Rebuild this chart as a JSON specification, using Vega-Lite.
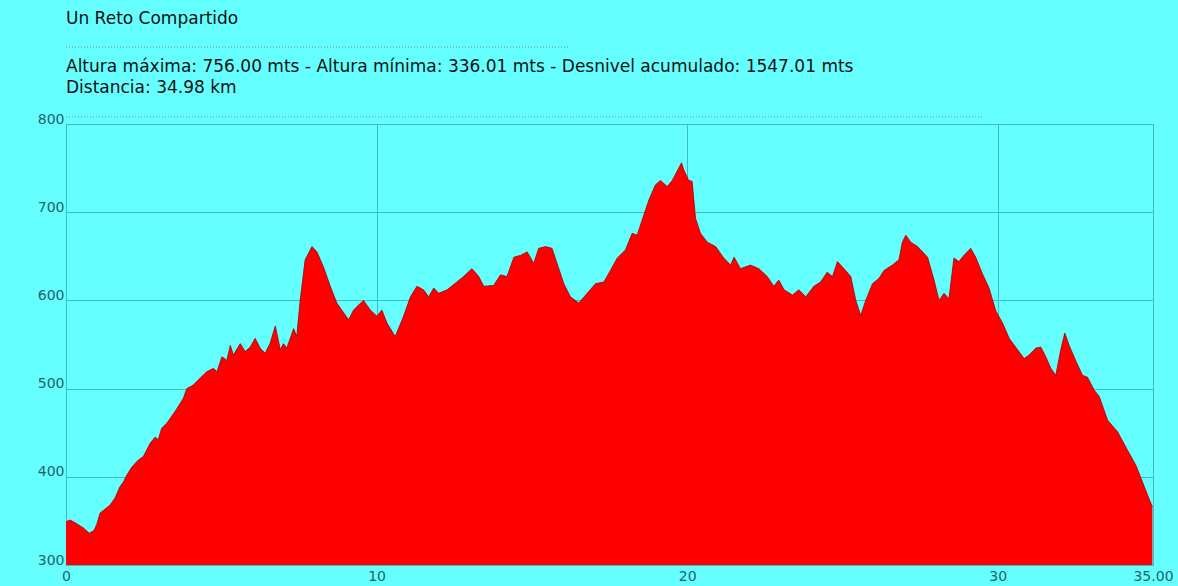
{
  "$schema": "https://vega.github.io/schema/vega-lite/v6.json",
  "width": 1087,
  "height": 441,
  "autosize": "none",
  "padding": {"left": 66, "top": 124, "right": 25, "bottom": 21},
  "background": "#66ffff",
  "title": {
    "text": "Un Reto Compartido",
    "subtitle": ["Altura máxima: 756.00 mts - Altura mínima: 336.01 mts - Desnivel acumulado: 1547.01 mts", "Distancia: 34.98 km"],
    "anchor": "start",
    "frame": "group",
    "font": "DejaVu Sans",
    "fontSize": 17,
    "fontWeight": "normal",
    "color": "#111111",
    "subtitleFont": "DejaVu Sans",
    "subtitleFontSize": 17,
    "subtitleColor": "#111111",
    "subtitleLineHeight": 21,
    "subtitlePadding": 31,
    "offset": -50
  },
  "config": {
    "view": {"stroke": "#3a9ea4", "strokeWidth": 1},
    "axis": {
      "gridColor": "#3fbcc3",
      "gridWidth": 1,
      "gridOpacity": 1,
      "domain": false,
      "ticks": false,
      "labelFont": "DejaVu Sans",
      "labelFontSize": 14,
      "labelColor": "#1e6469",
      "title": null
    }
  },
  "layer": [
    {
      "data": {"name": "perfil", "values": [
        {"km": 0.00, "alt": 349}, {"km": 0.13, "alt": 351}, {"km": 0.29, "alt": 348}, {"km": 0.56, "alt": 342},
        {"km": 0.75, "alt": 336}, {"km": 0.90, "alt": 339}, {"km": 0.99, "alt": 346}, {"km": 1.10, "alt": 359},
        {"km": 1.42, "alt": 368}, {"km": 1.58, "alt": 376}, {"km": 1.74, "alt": 389}, {"km": 1.85, "alt": 394},
        {"km": 1.96, "alt": 402}, {"km": 2.12, "alt": 411}, {"km": 2.33, "alt": 419}, {"km": 2.49, "alt": 423},
        {"km": 2.71, "alt": 438}, {"km": 2.87, "alt": 445}, {"km": 2.97, "alt": 442}, {"km": 3.08, "alt": 455},
        {"km": 3.25, "alt": 461}, {"km": 3.51, "alt": 474}, {"km": 3.78, "alt": 489}, {"km": 3.89, "alt": 500},
        {"km": 4.10, "alt": 504}, {"km": 4.32, "alt": 512}, {"km": 4.53, "alt": 519}, {"km": 4.75, "alt": 523},
        {"km": 4.86, "alt": 519}, {"km": 5.02, "alt": 536}, {"km": 5.18, "alt": 532}, {"km": 5.29, "alt": 549},
        {"km": 5.39, "alt": 538}, {"km": 5.61, "alt": 551}, {"km": 5.77, "alt": 542}, {"km": 5.93, "alt": 547},
        {"km": 6.09, "alt": 557}, {"km": 6.25, "alt": 546}, {"km": 6.41, "alt": 540}, {"km": 6.57, "alt": 551},
        {"km": 6.74, "alt": 571}, {"km": 6.90, "alt": 544}, {"km": 7.00, "alt": 551}, {"km": 7.11, "alt": 546},
        {"km": 7.33, "alt": 568}, {"km": 7.43, "alt": 559}, {"km": 7.54, "alt": 600}, {"km": 7.70, "alt": 646},
        {"km": 7.92, "alt": 661}, {"km": 8.08, "alt": 655}, {"km": 8.29, "alt": 638}, {"km": 8.51, "alt": 616},
        {"km": 8.72, "alt": 597}, {"km": 8.88, "alt": 589}, {"km": 9.10, "alt": 578}, {"km": 9.26, "alt": 589},
        {"km": 9.37, "alt": 593}, {"km": 9.58, "alt": 600}, {"km": 9.80, "alt": 589}, {"km": 10.01, "alt": 582},
        {"km": 10.17, "alt": 589}, {"km": 10.34, "alt": 574}, {"km": 10.60, "alt": 559}, {"km": 10.87, "alt": 582},
        {"km": 11.09, "alt": 604}, {"km": 11.30, "alt": 616}, {"km": 11.51, "alt": 612}, {"km": 11.68, "alt": 604},
        {"km": 11.84, "alt": 614}, {"km": 12.00, "alt": 608}, {"km": 12.27, "alt": 612}, {"km": 12.59, "alt": 621},
        {"km": 12.80, "alt": 627}, {"km": 13.07, "alt": 636}, {"km": 13.29, "alt": 627}, {"km": 13.45, "alt": 616},
        {"km": 13.77, "alt": 617}, {"km": 13.99, "alt": 629}, {"km": 14.20, "alt": 627}, {"km": 14.42, "alt": 649},
        {"km": 14.63, "alt": 651}, {"km": 14.85, "alt": 655}, {"km": 15.06, "alt": 642}, {"km": 15.22, "alt": 659},
        {"km": 15.44, "alt": 661}, {"km": 15.65, "alt": 659}, {"km": 15.81, "alt": 642}, {"km": 16.03, "alt": 619},
        {"km": 16.24, "alt": 604}, {"km": 16.51, "alt": 597}, {"km": 16.78, "alt": 608}, {"km": 17.05, "alt": 619},
        {"km": 17.32, "alt": 621}, {"km": 17.53, "alt": 634}, {"km": 17.75, "alt": 648}, {"km": 18.01, "alt": 657},
        {"km": 18.23, "alt": 676}, {"km": 18.39, "alt": 674}, {"km": 18.55, "alt": 691}, {"km": 18.77, "alt": 714},
        {"km": 18.98, "alt": 731}, {"km": 19.14, "alt": 736}, {"km": 19.36, "alt": 729}, {"km": 19.52, "alt": 736},
        {"km": 19.73, "alt": 750}, {"km": 19.82, "alt": 756}, {"km": 19.89, "alt": 748}, {"km": 20.05, "alt": 736},
        {"km": 20.16, "alt": 735}, {"km": 20.27, "alt": 693}, {"km": 20.43, "alt": 676}, {"km": 20.65, "alt": 666},
        {"km": 20.92, "alt": 661}, {"km": 21.18, "alt": 648}, {"km": 21.40, "alt": 640}, {"km": 21.51, "alt": 649},
        {"km": 21.72, "alt": 636}, {"km": 22.04, "alt": 640}, {"km": 22.31, "alt": 636}, {"km": 22.58, "alt": 627},
        {"km": 22.79, "alt": 616}, {"km": 22.95, "alt": 623}, {"km": 23.12, "alt": 612}, {"km": 23.39, "alt": 606},
        {"km": 23.60, "alt": 612}, {"km": 23.82, "alt": 604}, {"km": 24.08, "alt": 616}, {"km": 24.30, "alt": 621},
        {"km": 24.51, "alt": 632}, {"km": 24.68, "alt": 627}, {"km": 24.84, "alt": 644}, {"km": 25.05, "alt": 636},
        {"km": 25.27, "alt": 627}, {"km": 25.43, "alt": 600}, {"km": 25.59, "alt": 583}, {"km": 25.75, "alt": 600},
        {"km": 25.97, "alt": 619}, {"km": 26.18, "alt": 625}, {"km": 26.34, "alt": 634}, {"km": 26.61, "alt": 640},
        {"km": 26.82, "alt": 646}, {"km": 26.93, "alt": 666}, {"km": 27.04, "alt": 674}, {"km": 27.20, "alt": 666},
        {"km": 27.42, "alt": 661}, {"km": 27.74, "alt": 649}, {"km": 27.95, "alt": 623}, {"km": 28.11, "alt": 600},
        {"km": 28.27, "alt": 608}, {"km": 28.43, "alt": 602}, {"km": 28.59, "alt": 648}, {"km": 28.75, "alt": 644},
        {"km": 28.91, "alt": 651}, {"km": 29.13, "alt": 659}, {"km": 29.29, "alt": 649}, {"km": 29.51, "alt": 630},
        {"km": 29.72, "alt": 614}, {"km": 29.94, "alt": 588}, {"km": 30.16, "alt": 574}, {"km": 30.37, "alt": 557},
        {"km": 30.64, "alt": 544}, {"km": 30.85, "alt": 534}, {"km": 31.01, "alt": 538}, {"km": 31.23, "alt": 546},
        {"km": 31.39, "alt": 547}, {"km": 31.55, "alt": 536}, {"km": 31.71, "alt": 523}, {"km": 31.87, "alt": 515},
        {"km": 32.03, "alt": 544}, {"km": 32.16, "alt": 563}, {"km": 32.30, "alt": 549}, {"km": 32.52, "alt": 531},
        {"km": 32.73, "alt": 515}, {"km": 32.89, "alt": 513}, {"km": 33.11, "alt": 498}, {"km": 33.27, "alt": 491},
        {"km": 33.54, "alt": 464}, {"km": 33.86, "alt": 451}, {"km": 34.18, "alt": 430}, {"km": 34.45, "alt": 413},
        {"km": 34.64, "alt": 396}, {"km": 34.85, "alt": 377}, {"km": 34.98, "alt": 366}
      ]},
      "mark": {"type": "area", "color": "#ff0000", "clip": true, "interpolate": "linear"},
      "encoding": {
        "x": {
          "field": "km", "type": "quantitative",
          "scale": {"domain": [0, 35], "nice": false, "zero": false},
          "axis": {
            "values": [0, 10, 20, 30, 35],
            "labelExpr": "datum.value == 35 ? '35.00' : datum.label",
            "labelFlush": false,
            "labelPadding": 4
          }
        },
        "y": {
          "field": "alt", "type": "quantitative",
          "scale": {"domain": [300, 800], "nice": false, "zero": false},
          "axis": {
            "values": [300, 400, 500, 600, 700, 800],
            "labelPadding": 2,
            "labelOffset": -5,
            "labelFlush": false
          }
        }
      }
    },
    {
      "data": {"name": "perfil"},
      "mark": {"type": "line", "color": "#a00000", "strokeWidth": 0.8, "clip": true},
      "encoding": {
        "x": {"field": "km", "type": "quantitative"},
        "y": {"field": "alt", "type": "quantitative"}
      }
    },
    {
      "data": {"values": [{}]},
      "mark": {"type": "rule", "color": "#6f8f92", "strokeDash": [1, 2], "strokeWidth": 1, "yOffset": -77},
      "encoding": {
        "x": {"datum": 0, "type": "quantitative"},
        "x2": {"datum": 16.2},
        "y": {"datum": 800, "type": "quantitative"}
      }
    },
    {
      "data": {"values": [{}]},
      "mark": {"type": "rule", "color": "#6f8f92", "strokeDash": [1, 2], "strokeWidth": 1, "yOffset": -7},
      "encoding": {
        "x": {"datum": 0, "type": "quantitative"},
        "x2": {"datum": 29.55},
        "y": {"datum": 800, "type": "quantitative"}
      }
    }
  ]
}
